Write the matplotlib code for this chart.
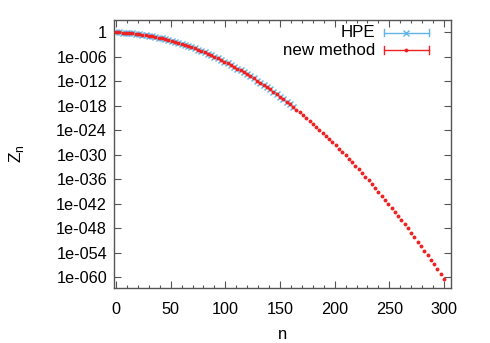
import numpy as np
import matplotlib
matplotlib.use("Agg")
import matplotlib.pyplot as plt
from matplotlib.ticker import FixedLocator, FixedFormatter, MultipleLocator

plt.rcParams['font.family'] = ['Liberation Sans', 'DejaVu Sans']

# data: n and log10(Z_n)
n_new = list(range(0, 301, 3))
log10_z_new = [0.00, -0.03, -0.08, -0.13, -0.20, -0.28, -0.37, -0.47, -0.58, -0.71,
               -0.85, -0.99, -1.15, -1.32, -1.51, -1.70, -1.91, -2.12, -2.35, -2.59,
               -2.84, -3.11, -3.38, -3.67, -3.97, -4.28, -4.60, -4.93, -5.27, -5.63,
               -5.99, -6.37, -6.76, -7.16, -7.58, -8.00, -8.44, -8.88, -9.34, -9.81,
               -10.30, -10.79, -11.30, -11.81, -12.34, -12.88, -13.43, -13.99, -14.57, -15.15,
               -15.75, -16.36, -16.98, -17.61, -18.25, -18.91, -19.58, -20.25, -20.94, -21.64,
               -22.36, -23.08, -23.82, -24.56, -25.32, -26.09, -26.87, -27.67, -28.47, -29.29,
               -30.11, -30.95, -31.80, -32.67, -33.54, -34.43, -35.32, -36.23, -37.15, -38.08,
               -39.02, -39.98, -40.94, -41.92, -42.91, -43.91, -44.92, -45.95, -46.98, -48.03,
               -49.09, -50.16, -51.24, -52.33, -53.43, -54.55, -55.68, -56.82, -57.97, -59.13,
               -60.30]
n_hpe = n_new[:55]
log10_z_hpe = log10_z_new[:55]

ytick_exps = [0, -6, -12, -18, -24, -30, -36, -42, -48, -54, -60]
ytick_labels = ['1', '1e-006', '1e-012', '1e-018', '1e-024', '1e-030',
                '1e-036', '1e-042', '1e-048', '1e-054', '1e-060']
xticks = [0, 50, 100, 150, 200, 250, 300]

hpe_color = '#5fb5e8'
new_color = '#ee2222'
frame_color = '#555555'

fig = plt.figure(figsize=(4.9, 3.43), dpi=100)
ax = fig.add_axes([0.2327, 0.1603, 0.9204 - 0.2327, 0.9417 - 0.1603])

z_hpe = 10.0 ** np.array(log10_z_hpe)
z_new = 10.0 ** np.array(log10_z_new)

ax.plot(n_hpe, z_hpe, linestyle='none', marker='x', markersize=4.4,
        markeredgewidth=1.0, color=hpe_color, zorder=2)
ax.plot(n_new, z_new, linestyle='none', marker='o', markersize=2.8,
        markeredgewidth=0, color=new_color, zorder=3)

ax.set_yscale('log')
ax.set_xlim(-1.8, 306.4)
ax.set_ylim(10 ** -62.6, 10 ** 3.0)

ax.yaxis.set_major_locator(FixedLocator([10.0 ** e for e in ytick_exps]))
ax.yaxis.set_major_formatter(FixedFormatter(ytick_labels))
ax.yaxis.set_minor_locator(FixedLocator([]))
ax.xaxis.set_major_locator(FixedLocator(xticks))
ax.xaxis.set_minor_locator(MultipleLocator(10))

ax.tick_params(which='both', direction='in', top=True, right=True,
               color=frame_color, labelsize=11.7, labelcolor='black')
ax.tick_params(which='major', length=5, width=0.8)
ax.tick_params(which='minor', length=2.5, width=0.8)
ax.tick_params(axis='x', pad=10)
ax.tick_params(axis='y', pad=5)
for sp in ax.spines.values():
    sp.set_color(frame_color)
    sp.set_linewidth(1.0)

ax.set_xlabel('n', fontsize=12, labelpad=7)
ax.set_ylabel(r'Z$_\mathregular{n}$', fontsize=12.5, labelpad=22)

# gnuplot-style key (top right)
tr = ax.transAxes
def key_entry(yfrac, label, color, marker, ms, mew):
    x0, x1, xm = 0.800, 0.935, 0.8675
    ax.text(0.775, yfrac, label, transform=tr, ha='right', va='center',
            fontsize=12.2, color='black')
    ax.plot([x0, x1], [yfrac, yfrac], transform=tr, color=color, lw=1.0,
            clip_on=False)
    cap = 0.014
    for xc in (x0, x1):
        ax.plot([xc, xc], [yfrac - cap, yfrac + cap], transform=tr,
                color=color, lw=1.0, clip_on=False)
    ax.plot([xm], [yfrac], transform=tr, marker=marker, markersize=ms,
            markeredgewidth=mew, color=color, linestyle='none', clip_on=False)

key_entry(0.953, 'HPE', hpe_color, 'x', 4.4, 1.0)
key_entry(0.888, 'new method', new_color, 'o', 2.8, 0)

fig.savefig('out.png', dpi=100)
